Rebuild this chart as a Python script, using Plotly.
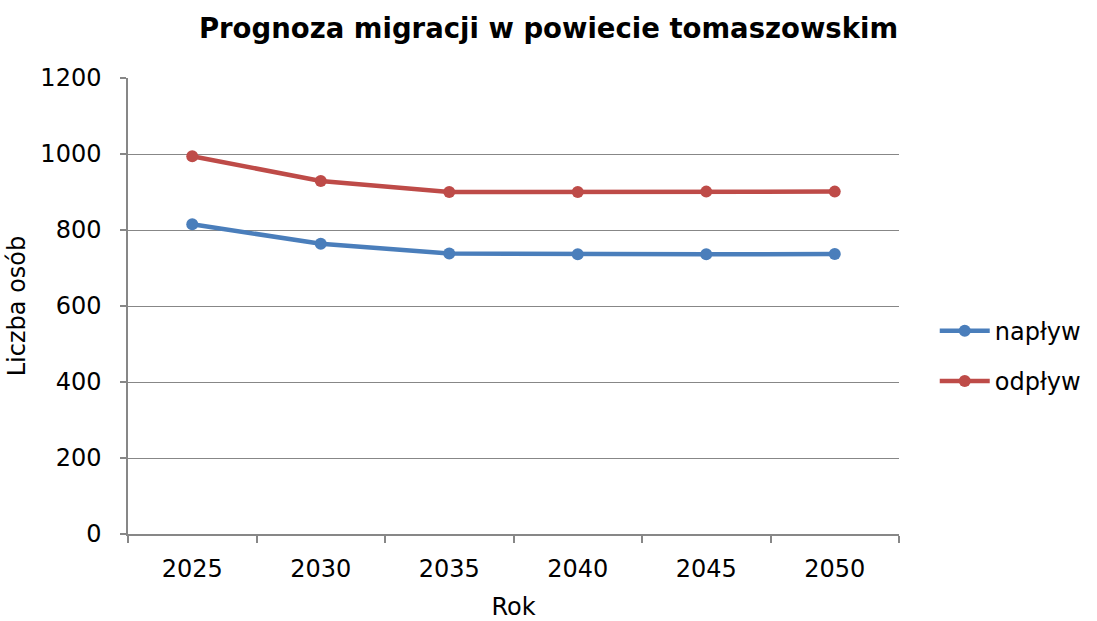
import plotly.graph_objects as go

years = ["2025", "2030", "2035", "2040", "2045", "2050"]
naplyw = [815, 764, 738, 736, 736, 737]
odplyw = [994, 929, 900, 900, 901, 901]

FONT = "'DejaVu Sans', sans-serif"
GRID = "#878787"

fig = go.Figure()
fig.add_trace(go.Scatter(x=years, y=naplyw, name="napływ", mode="lines+markers",
                         legendgroup="a",
                         line=dict(color="#4A7EBB", width=4.5),
                         marker=dict(color="#4A7EBB", size=12)))
fig.add_trace(go.Scatter(x=years, y=odplyw, name="odpływ", mode="lines+markers",
                         legendgroup="b",
                         line=dict(color="#BE4B48", width=4.5),
                         marker=dict(color="#BE4B48", size=12)))

fig.update_layout(
    width=1097, height=621,
    paper_bgcolor="white", plot_bgcolor="white",
    margin=dict(l=128, r=197, t=78, b=87),
    font=dict(family=FONT, size=24, color="#000000"),
    title=dict(text="<b>Prognoza migracji w powiecie tomaszowskim</b>",
               x=0.5, xref="container", xanchor="center", y=0.955, yanchor="middle",
               font=dict(family=FONT, size=27.5, color="#000000")),
    showlegend=True,
    legend=dict(x=1.045, xanchor="left", y=0.39, yanchor="middle",
                font=dict(family=FONT, size=24), itemwidth=50,
                traceorder="grouped", tracegroupgap=16, bgcolor="rgba(0,0,0,0)"),
    xaxis=dict(type="category", range=[-0.5, 5.5], showgrid=False, showline=True,
               linecolor=GRID, linewidth=1.5, automargin=False,
               ticks="outside", tickson="boundaries", ticklen=7, tickcolor=GRID, tickwidth=1.5,
               ticklabelstandoff=12,
               title=dict(text="Rok", standoff=20, font=dict(size=24)),
               tickfont=dict(size=24)),
    yaxis=dict(range=[0, 1200], tickvals=[0, 200, 400, 600, 800, 1000, 1200],
               showgrid=True, gridcolor=GRID, gridwidth=1.2,
               showline=True, linecolor=GRID, linewidth=1.5, automargin=False,
               ticks="outside", ticklen=6, tickcolor=GRID, tickwidth=1.5,
               ticklabelstandoff=14, zeroline=False,
               title=dict(text="Liczba osób", standoff=8, font=dict(size=24)),
               tickfont=dict(size=24)),
)

fig.write_html("out.html", config={"displayModeBar": False},
               post_script="document.body.style.margin='0';")
